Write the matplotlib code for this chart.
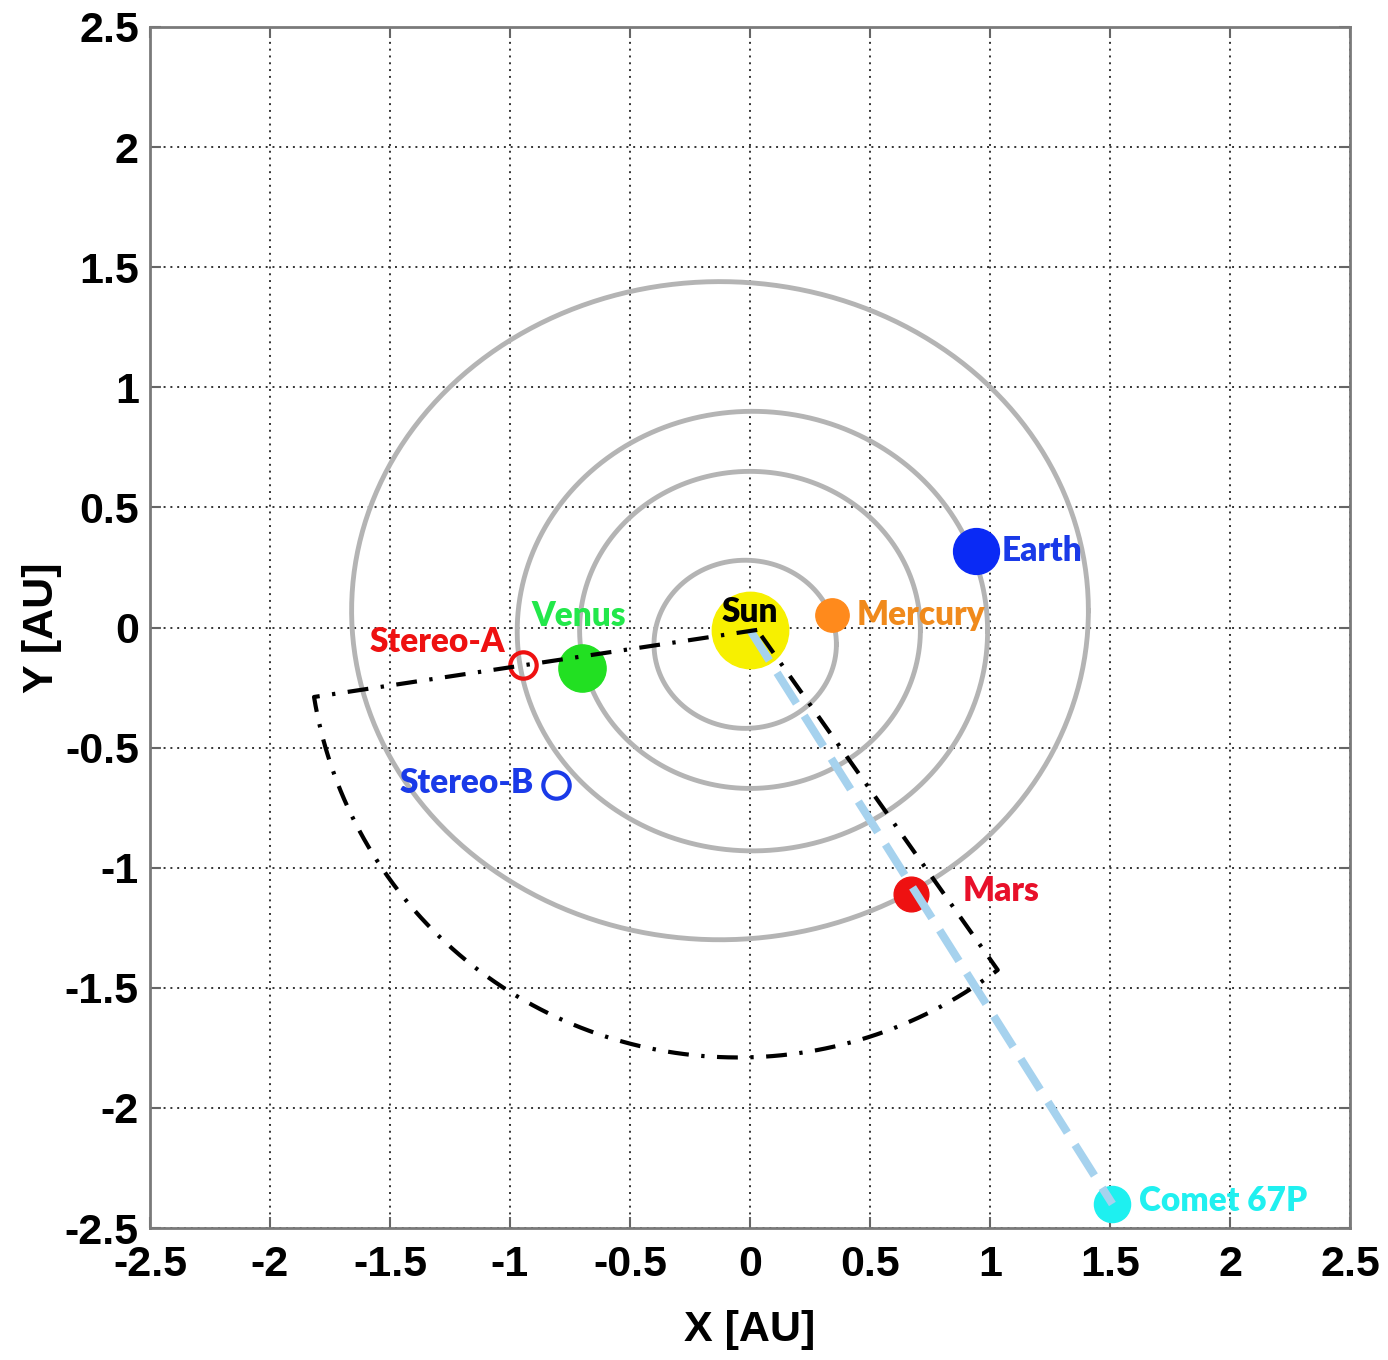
import numpy as np
import matplotlib
matplotlib.use("Agg")
import matplotlib.pyplot as plt

# tick positions / labels (AU)
ticks = [-2.5, -2, -1.5, -1, -0.5, 0, 0.5, 1, 1.5, 2, 2.5]
tick_labels = ["-2.5", "-2", "-1.5", "-1", "-0.5", "0", "0.5", "1", "1.5", "2", "2.5"]

# orbits drawn as ellipses: centre, semi-axes (AU)
orbit_names = ["Mercury", "Venus", "Earth", "Mars"]
orbit_cx = [-0.02, 0.0, 0.01, -0.125]
orbit_cy = [-0.07, -0.01, -0.015, 0.07]
orbit_a = [0.38, 0.71, 0.98, 1.535]
orbit_b = [0.35, 0.66, 0.915, 1.37]

# bodies (filled markers)
bodies = ["Sun", "Mercury", "Venus", "Earth", "Mars", "Comet 67P"]
body_x = [0.0, 0.34, -0.70, 0.94, 0.67, 1.51]
body_y = [-0.01, 0.05, -0.17, 0.32, -1.11, -2.40]
body_size = [55, 24, 34, 33, 25, 26]
body_color = ["#f7f000", "#ff8a1c", "#22e022", "#0a2af5", "#ee1111", "#1ef0f0"]
label_color = ["black", "#f08a1c", "#22e84a", "#1a3ae8", "#e8102a", "#20f0f0"]
label_off = [(0, 13), (18, 0), (-2, 38), (19, 0), (37, 2), (19, 2)]
label_ha = ["center", "left", "center", "left", "left", "left"]

# spacecraft (open markers)
craft = ["Stereo-A", "Stereo-B"]
craft_x = [-0.946, -0.81]
craft_y = [-0.158, -0.655]
craft_color = ["#ee1111", "#1a3ae8"]
craft_off = [(-13, 17), (-16, 1)]

# field-of-view wedge
wedge_apex = (0.03, -0.01)
arc_center = (-0.05, 0.0)
arc_radius = 1.79
arc_start_deg = 189.3
arc_end_deg = 307.2

fig = plt.figure(figsize=(13.88, 13.6), dpi=100)
ax = fig.add_axes([150 / 1388, 132 / 1360, 1200 / 1388, 1201 / 1360])

# orbits
t = np.linspace(0, 2 * np.pi, 400)
for cx, cy, a, b in zip(orbit_cx, orbit_cy, orbit_a, orbit_b):
    ax.plot(cx + a * np.cos(t), cy + b * np.sin(t), color="#b4b4b4", lw=3.5, zorder=2)

# bodies
for i, name in enumerate(bodies):
    ax.plot(body_x[i], body_y[i], "o", ms=body_size[i], color=body_color[i],
            mec=body_color[i], zorder=3)
    ax.annotate(name, (body_x[i], body_y[i]), xytext=label_off[i],
                textcoords="offset points", ha=label_ha[i], va="center",
                color=label_color[i], fontsize=24, fontweight="heavy",
                family="Lato", zorder=6)

# spacecraft
for i, name in enumerate(craft):
    ax.plot(craft_x[i], craft_y[i], "o", ms=19, mfc="none", mec=craft_color[i],
            mew=3, zorder=3)
    ax.annotate(name, (craft_x[i], craft_y[i]), xytext=craft_off[i],
                textcoords="offset points", ha="right", va="center",
                color=craft_color[i], fontsize=24, fontweight="heavy",
                family="Lato", zorder=6)

# Sun -> comet line
sun_i = bodies.index("Sun")
com_i = bodies.index("Comet 67P")
ax.plot([body_x[sun_i], body_x[com_i]], [body_y[sun_i], body_y[com_i]],
        color="#a6d2ee", lw=5.8, dashes=[4.5, 1.8], zorder=4)

# wedge (dash-dot)
ang = np.radians(np.linspace(arc_start_deg, arc_end_deg, 200))
arc_x = arc_center[0] + arc_radius * np.cos(ang)
arc_y = arc_center[1] + arc_radius * np.sin(ang)
wx = np.concatenate([[wedge_apex[0]], arc_x, [wedge_apex[0]]])
wy = np.concatenate([[wedge_apex[1]], arc_y, [wedge_apex[1]]])
ax.plot(wx, wy, color="black", lw=3.0, dashes=[5, 3, 0.8, 3], zorder=5)

ax.set_xlim(-2.5, 2.5)
ax.set_ylim(-2.5, 2.5)
ax.set_xticks(ticks)
ax.set_yticks(ticks)
ax.set_xticklabels(tick_labels)
ax.set_yticklabels(tick_labels)
for lab in ax.get_xticklabels() + ax.get_yticklabels():
    lab.set_fontsize(31)
    lab.set_fontweight("bold")
    lab.set_family("Liberation Sans")

ax.grid(True, color="#333333", linestyle=(0, (1, 2.5)), lw=1.4)
ax.set_axisbelow(True)
ax.tick_params(direction="in", length=8, width=1.5, color="#666666",
               top=True, right=True)
ax.tick_params(axis="x", pad=12)
ax.tick_params(axis="y", pad=8)
for s in ax.spines.values():
    s.set_color("#7a7a7a")
    s.set_linewidth(2)

ax.set_xlabel("X [AU]", fontsize=31, fontweight="bold", family="Liberation Sans",
              labelpad=18)
ax.set_ylabel("Y [AU]", fontsize=31, fontweight="bold", family="Liberation Sans",
              labelpad=2)

fig.savefig("out.png", dpi=100)
